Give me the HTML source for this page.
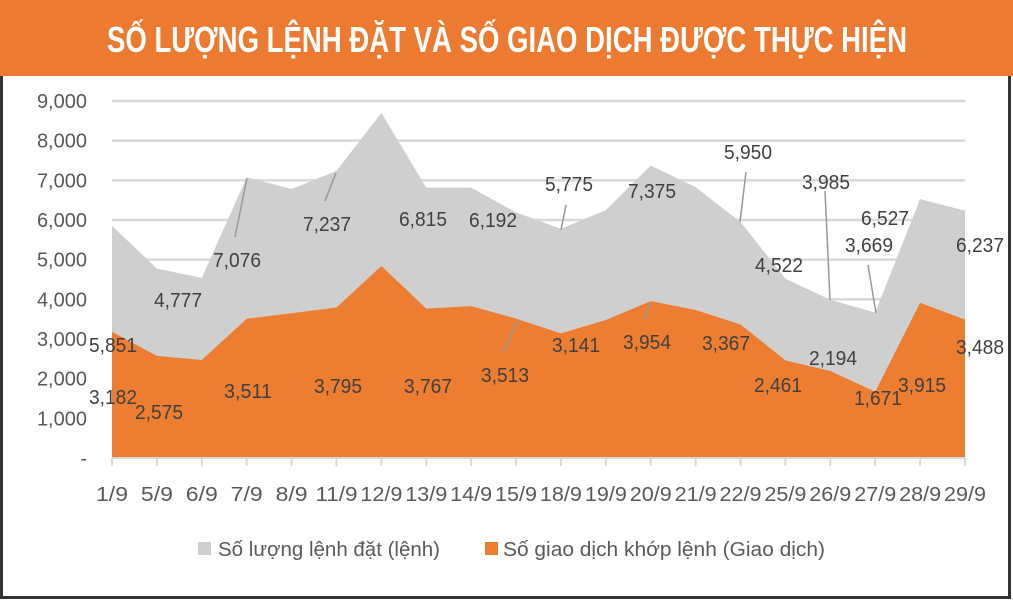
<!DOCTYPE html>
<html><head><meta charset="utf-8"><style>
body{margin:0;background:#fff;}
svg{display:block;font-family:"Liberation Sans",sans-serif;}
</style></head><body>
<svg width="1013" height="601" viewBox="0 0 1013 601">
<rect x="0" y="0" width="1013" height="601" fill="#fff"/>
<rect x="1.5" y="1.5" width="1008" height="596" fill="none" stroke="#333" stroke-width="3"/>
<rect x="0" y="0" width="1013" height="76" fill="#EC7A30"/>
<text x="507" y="52" text-anchor="middle" fill="#fff" font-weight="bold" font-size="36" textLength="800" lengthAdjust="spacingAndGlyphs">SỐ LƯỢNG LỆNH ĐẶT VÀ SỐ GIAO DỊCH ĐƯỢC THỰC HIỆN</text>
<g id="grid"></g>
<g id="areas"></g>
<g id="axes"></g>
<g id="labels"></g>
<g>
<rect x="198" y="542" width="13" height="13" fill="#D0CFCF"/>
<text x="218" y="556" font-size="20" fill="#595959" textLength="222" lengthAdjust="spacingAndGlyphs">Số lượng lệnh đặt (lệnh)</text>
<rect x="485" y="542" width="13" height="13" fill="#ED7D31"/>
<text x="503" y="556" font-size="20" fill="#595959" textLength="322" lengthAdjust="spacingAndGlyphs">Số giao dịch khớp lệnh (Giao dịch)</text>
</g>
</svg>
<script>
const categories=["1/9","5/9","6/9","7/9","8/9","11/9","12/9","13/9","14/9","15/9","18/9","19/9","20/9","21/9","22/9","25/9","26/9","27/9","28/9","29/9"];
const ordersValues=[5851,4777,4540,7076,6780,7237,8700,6815,6815,6192,5775,6250,7375,6830,5950,4522,3985,3669,6527,6237];
const tradesValues=[3182,2575,2470,3511,3650,3795,4840,3767,3830,3513,3141,3480,3954,3730,3367,2461,2194,1671,3915,3488];
const yTicks=[0,1000,2000,3000,4000,5000,6000,7000,8000,9000];
const yTickLabels=["-","1,000","2,000","3,000","4,000","5,000","6,000","7,000","8,000","9,000"];
// label placement (layout, not data)
const orderLabelPos=[[113,345],[178,300],null,[237,260],null,[327,224],null,[423,219],null,[493,220],[569,184],null,[652,191],null,[748,152],[779,265],[826,182],[869,245],[885,218],[980,245]];
const tradeLabelPos=[[113,397],[159,412],null,[248,391],null,[338,386],null,[428,386],null,[505,375],[576,345],null,[647,342],null,[726,343],[778,385],[833,358],[878,398],[922,385],[980,347]];
const x0=112,x1=965,yBase=458,yTop=101,yMax=9000;
const NS="http://www.w3.org/2000/svg";
function xPos(i){return x0+(x1-x0)*i/(categories.length-1);}
function yPos(v){return yBase-(yBase-yTop)*v/yMax;}
function mk(tag,attrs,parent){const e=document.createElementNS(NS,tag);for(const k in attrs)e.setAttribute(k,attrs[k]);parent.appendChild(e);return e;}
const fmt=v=>v.toLocaleString("en-US");
const grid=document.getElementById("grid"),areas=document.getElementById("areas"),axes=document.getElementById("axes"),labels=document.getElementById("labels");
yTicks.forEach((t,i)=>{
  if(t>0){const l=mk("line",{x1:x0,x2:x1,y1:yPos(t),y2:yPos(t),stroke:"#D9D9D9","stroke-width":2.5},grid);
  
  }
  const tx=mk("text",{x:87,y:yPos(t)+7,"text-anchor":"end","font-size":20,fill:"#595959"},axes);
  tx.textContent=yTickLabels[i];
  
  
});
function areaPath(vals){let d="M"+xPos(0)+","+yBase;vals.forEach((v,i)=>{d+=" L"+xPos(i)+","+yPos(v);});d+=" L"+xPos(vals.length-1)+","+yBase+" Z";return d;}
const a1=mk("path",{d:areaPath(ordersValues),fill:"#D0CFCF"},areas);


const a2=mk("path",{d:areaPath(tradesValues),fill:"#ED7D31"},areas);


const ax=mk("line",{x1:x0,x2:x1,y1:yBase,y2:yBase,stroke:"#D9D9D9","stroke-width":2},axes);


categories.forEach((c,i)=>{
  const tk=mk("line",{x1:xPos(i),x2:xPos(i),y1:yBase,y2:yBase+8,stroke:"#D9D9D9","stroke-width":2},axes);
  
  
  const tx=mk("text",{x:xPos(i),y:501,"text-anchor":"middle","font-size":20,fill:"#595959",textLength:c.length>3?42:32,lengthAdjust:"spacingAndGlyphs"},axes);
  tx.textContent=c;
  
  
});
const leaders=[[247,178,235,237],[336,173,325,201],[566,205,561,230],[746,172,740,222],[825,191,830,300],[868,265,876,313],[650,303,645,320],[517,322,503,352]];
leaders.forEach(L=>{const l=mk("line",{x1:L[0],y1:L[1],x2:L[2],y2:L[3],stroke:"#999","stroke-width":1.5},labels);
  
  });
function drawLabels(vals,pos,name){
  vals.forEach((v,i)=>{
    const p=pos[i];
    if(!p)return;
    const t=mk("text",{x:p[0],y:p[1]+7,"text-anchor":"middle","font-size":20,fill:"#404040",textLength:48,lengthAdjust:"spacingAndGlyphs"},labels);
    t.textContent=fmt(v);
    
    
  });
}
drawLabels(ordersValues,orderLabelPos,"order-label");
drawLabels(tradesValues,tradeLabelPos,"trade-label");
</script>
</body></html>
